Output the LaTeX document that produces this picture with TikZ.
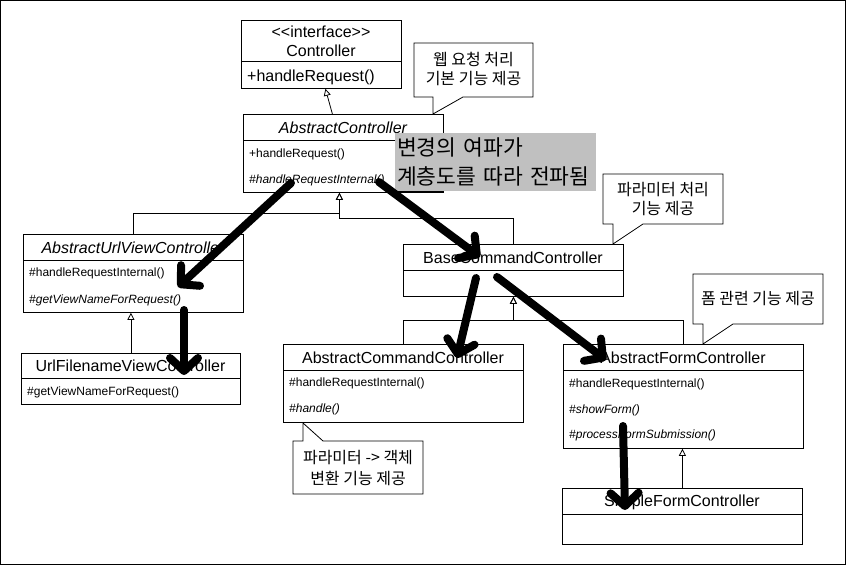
\documentclass[tikz,border=0pt]{standalone}
\usepackage{fontspec}
\newfontfamily\umlfont{Liberation Sans}
\newfontfamily\krfont{Noto Sans CJK KR}
\usetikzlibrary{arrows.meta}
\definecolor{ripplegray}{HTML}{C0C0C0}

\begin{document}
\begin{tikzpicture}[x=1pt, y=-1pt]
	\tikzset{classbox/.style = {draw, fill=white, line width=0.8pt, anchor=north west, inner sep=0pt},
		cname/.style = {font=\umlfont\fontsize{16pt}{19pt}\selectfont, inner sep=0pt},
		member/.style = {font=\umlfont\fontsize{12pt}{14pt}\selectfont, anchor=west, inner sep=0pt},
		notebox/.style = {draw, fill=white, line width=0.8pt},
		notetext/.style = {font=\krfont\fontsize{16pt}{19.5pt}\selectfont, align=center, inner sep=0pt},
		gen/.style = {line width=0.8pt, -{Triangle[open, length=7pt, width=7pt]}},
		ripple/.style = {line width=8pt, line cap=round, -{Straight Barb[length=13pt, width=28pt, round]}}}

	\useasboundingbox (0,0) rectangle (846,565);
	\draw[line width=1pt] (0.5,0.5) rectangle (845.5,564.5);

	\node[classbox, minimum width=160pt, minimum height=68pt] (ctrl) at (241,20) {};
	\draw[line width=0.8pt] ([yshift=-41pt]ctrl.north west) -- ([yshift=-41pt]ctrl.north east);
	\node[cname, align=center] (ctrl_t) at (321,41.5) {<\kern0pt<interface>\kern0pt>\\Controller};
	\node[member, font=\umlfont\fontsize{16pt}{19pt}\selectfont] (ctrl_1) at (247,77) {+handleRequest()};

	\node[classbox, minimum width=200pt, minimum height=78pt] (ac) at (243,114) {};
	\draw[line width=0.8pt] ([yshift=-26pt]ac.north west) -- ([yshift=-26pt]ac.north east);
	\node[cname] (ac_t) at (343,128) {\itshape AbstractController};
	\node[member] (ac_1) at (249,154) {+handleRequest()};
	\node[member] (ac_2) at (249,180) {\itshape \#handleRequestInternal()};

	\node[classbox, minimum width=220pt, minimum height=78pt] (auv) at (23,234) {};
	\draw[line width=0.8pt] ([yshift=-26pt]auv.north west) -- ([yshift=-26pt]auv.north east);
	\node[cname] (auv_t) at (133,248) {\itshape AbstractUrlViewController};
	\node[member] (auv_1) at (29,273) {\#handleRequestInternal()};
	\node[member] (auv_2) at (29,300) {\itshape \#getViewNameForRequest()};

	\node[classbox, minimum width=219pt, minimum height=51pt] (ufv) at (21,353) {};
	\draw[line width=0.8pt] ([yshift=-25pt]ufv.north west) -- ([yshift=-25pt]ufv.north east);
	\node[cname] (ufv_t) at (130.5,366) {UrlFilenameViewController};
	\node[member] (ufv_1) at (27,392) {\#getViewNameForRequest()};

	\node[classbox, minimum width=220pt, minimum height=52pt] (bcc) at (403,244) {};
	\draw[line width=0.8pt] ([yshift=-26pt]bcc.north west) -- ([yshift=-26pt]bcc.north east);
	\node[cname] (bcc_t) at (513,258) {BaseCommandController};

	\node[classbox, minimum width=240pt, minimum height=78pt] (acc) at (283,344) {};
	\draw[line width=0.8pt] ([yshift=-26pt]acc.north west) -- ([yshift=-26pt]acc.north east);
	\node[cname] (acc_t) at (403,358) {AbstractCommandController};
	\node[member] (acc_1) at (289,383) {\#handleRequestInternal()};
	\node[member] (acc_2) at (289,409) {\itshape \#handle()};

	\node[classbox, minimum width=240pt, minimum height=104pt] (afc) at (563,344) {};
	\draw[line width=0.8pt] ([yshift=-26pt]afc.north west) -- ([yshift=-26pt]afc.north east);
	\node[cname] (afc_t) at (683,358) {AbstractFormController};
	\node[member] (afc_1) at (569,384) {\#handleRequestInternal()};
	\node[member] (afc_2) at (569,410) {\itshape \#showForm()};
	\node[member] (afc_3) at (569,435) {\itshape \#processFormSubmission()};

	\node[classbox, minimum width=240pt, minimum height=56pt] (sfc) at (562,488) {};
	\draw[line width=0.8pt] ([yshift=-26pt]sfc.north west) -- ([yshift=-26pt]sfc.north east);
	\node[cname] (sfc_t) at (682,502) {SimpleFormController};

	\draw[gen] ([xshift=-11pt]ac.north) -- ([xshift=4pt]ctrl.south);
	\draw[gen] (auv.north) -- ++(0,-21) -| ([xshift=-4pt]ac.south);
	\draw[gen] (bcc.north) -- ++(0,-26) -| ([xshift=-4pt]ac.south);
	\draw[gen] (ufv.north) -- (ufv.north |- auv.south);
	\draw[gen] (acc.north) -- ++(0,-24) -| (bcc.south);
	\draw[gen] (afc.north) -- ++(0,-24) -| (bcc.south);
	\draw[gen] (sfc.north) -- (sfc.north |- afc.south);

	\draw[notebox] (414,43) -- (533,43) -- (533,97) -- (463,97) -- (433,114) -- (433,97) -- (414,97) -- cycle;
	\node[notetext] (n_web) at (473.5,69) {웹 요청 처리\\기본 기능 제공};
	\draw[notebox] (603,174) -- (723,174) -- (723,224) -- (643,224) -- (613,244) -- (613,224) -- (603,224) -- cycle;
	\node[notetext] (n_param) at (663,199) {파라미터 처리\\기능 제공};
	\draw[notebox] (693,274) -- (823,274) -- (823,324) -- (733,324) -- (703,344) -- (703,324) -- (693,324) -- cycle;
	\node[notetext] (n_form) at (758,299) {폼 관련 기능 제공};
	\draw[notebox] (293,441) -- (303,441) -- (303,423) -- (323,441) -- (423,441) -- (423,494) -- (293,494) -- cycle;
	\node[notetext, font=\krfont\fontsize{16pt}{21pt}\selectfont] (n_cmd) at (358,468) {파라미터 -> 객체\\변환 기능 제공};

	\node[fill=ripplegray, anchor=north west, minimum width=201pt, minimum height=58pt, text width=197pt,
		inner xsep=2pt, inner ysep=0pt, align=left, font=\krfont\fontsize{21.5pt}{29pt}\selectfont]
		(ripplebox) at (395,133) {변경의 여파가\\계층도를 따라 전파됨};
	\draw[line width=0.8pt] (ripplebox.south west) -- ([xshift=-153pt]ripplebox.south east);

	\coordinate (r1s) at (291,183);
	\coordinate (r1e) at (178,287);
	\coordinate (r2s) at (184,310);
	\coordinate (r2e) at (184,375);
	\coordinate (r3s) at (379,182);
	\coordinate (r3e) at (480,257);
	\coordinate (r4s) at (476,278);
	\coordinate (r4e) at (457,358);
	\coordinate (r5s) at (497,277);
	\coordinate (r5e) at (606,360);
	\coordinate (r6s) at (623,426);
	\coordinate (r6e) at (625,510);

	\draw[ripple] (r1s) -- (r1e);
	\draw[ripple] (r2s) -- (r2e);
	\draw[ripple] (r3s) -- (r3e);
	\draw[ripple] (r4s) -- (r4e);
	\draw[ripple] (r5s) -- (r5e);
	\draw[ripple] (r6s) -- (r6e);

\end{tikzpicture}
\end{document}
